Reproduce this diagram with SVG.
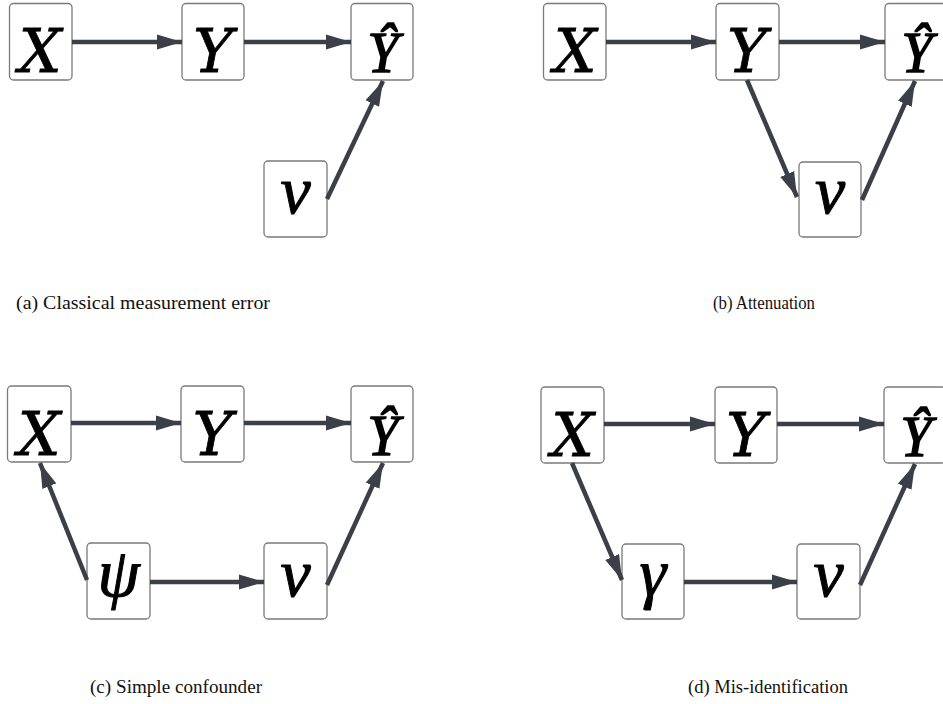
<svg xmlns="http://www.w3.org/2000/svg" width="943" height="704" viewBox="0 0 943 704">
  <defs>
    <marker id="arrow" markerUnits="userSpaceOnUse" markerWidth="26" markerHeight="16" refX="25" refY="8" orient="auto">
      <path d="M0,0.5 L25,8 L0,15.5 Z" fill="#3a3f48"/>
    </marker>
    <style>
      .box { fill: #ffffff; stroke: #7a7a7a; stroke-width: 1.3; }
      .lbl { font-family: "DejaVu Serif", "Liberation Serif", serif; font-style: italic; font-size: 60px; fill: #000; stroke: #000; stroke-width: 0.8; text-anchor: middle; }
      .yhat { font-family: "Liberation Serif", "DejaVu Serif", serif; font-size: 56px; stroke-width: 1.4; }
      .greek { font-family: "Liberation Serif", "DejaVu Serif", serif; font-size: 68px; stroke-width: 1; }
      .edge { stroke: #3a3f48; stroke-width: 4.5; fill: none; marker-end: url(#arrow); }
      .cap { font-family: "Liberation Serif", "DejaVu Serif", serif; font-size: 19px; fill: #111; }
    </style>
  </defs>

  <!-- (a) Classical measurement error -->
  <g id="a-X"><rect class="box" x="9.5" y="3.5" width="62.5" height="76.5" rx="4"/><text class="lbl" x="40" y="72">X</text></g>
  <g id="a-Y"><rect class="box" x="182" y="3.5" width="62" height="76.5" rx="4"/><text class="lbl" x="213" y="72">Y</text></g>
  <g id="a-Yhat"><rect class="box" x="351" y="3.5" width="62" height="76.5" rx="4"/><text class="lbl yhat" x="383" y="72">Ŷ</text></g>
  <g id="a-nu"><rect class="box" x="264" y="161" width="63" height="76" rx="4"/><text class="lbl greek" x="295.5" y="213">ν</text></g>

  <!-- (b) Attenuation -->
  <g id="b-X"><rect class="box" x="543.5" y="3.5" width="62.5" height="76.5" rx="4"/><text class="lbl" x="575" y="72">X</text></g>
  <g id="b-Y"><rect class="box" x="716" y="3.5" width="63" height="76.5" rx="4"/><text class="lbl" x="747" y="72">Y</text></g>
  <g id="b-Yhat"><rect class="box" x="885" y="3.5" width="62" height="76.5" rx="4"/><text class="lbl yhat" x="917" y="72">Ŷ</text></g>
  <g id="b-nu"><rect class="box" x="799" y="162" width="62" height="75" rx="4"/><text class="lbl greek" x="830" y="213">ν</text></g>

  <!-- (c) Simple confounder -->
  <g id="c-X"><rect class="box" x="7.5" y="386" width="63.5" height="76" rx="4"/><text class="lbl" x="39" y="455">X</text></g>
  <g id="c-Y"><rect class="box" x="181" y="386" width="63" height="76" rx="4"/><text class="lbl" x="212.5" y="455">Y</text></g>
  <g id="c-Yhat"><rect class="box" x="351" y="386" width="62" height="76" rx="4"/><text class="lbl yhat" x="383" y="455">Ŷ</text></g>
  <g id="c-psi"><rect class="box" x="87" y="543" width="63" height="76" rx="4"/><text class="lbl greek" x="118.5" y="596">ψ</text></g>
  <g id="c-nu"><rect class="box" x="264" y="543" width="63" height="76" rx="4"/><text class="lbl greek" x="295.5" y="596">ν</text></g>

  <!-- (d) Mis-identification -->
  <g id="d-X"><rect class="box" x="541" y="387" width="63" height="76" rx="4"/><text class="lbl" x="572.5" y="456">X</text></g>
  <g id="d-Y"><rect class="box" x="715" y="387" width="62" height="76" rx="4"/><text class="lbl" x="746" y="456">Y</text></g>
  <g id="d-Yhat"><rect class="box" x="884" y="387" width="62" height="76" rx="4"/><text class="lbl yhat" x="916" y="456">Ŷ</text></g>
  <g id="d-gamma"><rect class="box" x="622" y="544" width="62" height="75" rx="4"/><text class="lbl greek" x="653" y="596">γ</text></g>
  <g id="d-nu"><rect class="box" x="797" y="544" width="63" height="75" rx="4"/><text class="lbl greek" x="828.5" y="596">ν</text></g>

  <!-- connectors -->
  <g id="edges">
    <line class="edge" x1="72" y1="42" x2="182" y2="42"/>
    <line class="edge" x1="244" y1="42" x2="351" y2="42"/>
    <line class="edge" x1="327" y1="199" x2="383" y2="81"/>

    <line class="edge" x1="606" y1="42" x2="716" y2="42"/>
    <line class="edge" x1="779" y1="42" x2="885" y2="42"/>
    <line class="edge" x1="747" y1="80" x2="797" y2="197"/>
    <line class="edge" x1="862" y1="200" x2="915" y2="81"/>

    <line class="edge" x1="71" y1="423" x2="181" y2="423"/>
    <line class="edge" x1="244" y1="423" x2="351" y2="423"/>
    <line class="edge" x1="87" y1="580" x2="40" y2="463"/>
    <line class="edge" x1="150" y1="582" x2="264" y2="582"/>
    <line class="edge" x1="327" y1="585" x2="383" y2="463"/>

    <line class="edge" x1="604" y1="424" x2="715" y2="424"/>
    <line class="edge" x1="777" y1="424" x2="884" y2="424"/>
    <line class="edge" x1="572" y1="463" x2="622" y2="580"/>
    <line class="edge" x1="684" y1="582" x2="797" y2="582"/>
    <line class="edge" x1="860" y1="585" x2="915" y2="464"/>
  </g>

  <!-- captions -->
  <text class="cap" x="16" y="309" textLength="254" lengthAdjust="spacingAndGlyphs">(a) Classical measurement error</text>
  <text class="cap" x="713" y="309" textLength="102" lengthAdjust="spacingAndGlyphs">(b) Attenuation</text>
  <text class="cap" x="90" y="693" textLength="172" lengthAdjust="spacingAndGlyphs">(c) Simple confounder</text>
  <text class="cap" x="688" y="693" textLength="160" lengthAdjust="spacingAndGlyphs">(d) Mis-identification</text>
</svg>
